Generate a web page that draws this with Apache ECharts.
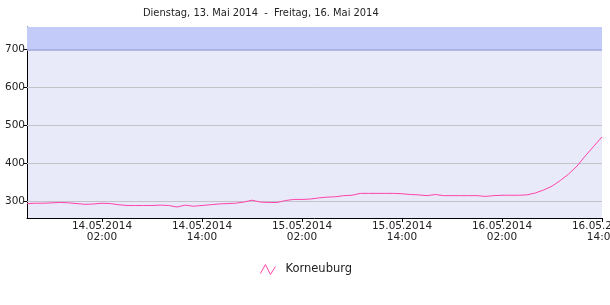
<!DOCTYPE html>
<html>
<head>
<meta charset="utf-8">
<script src="https://cdn.jsdelivr.net/npm/echarts@6/dist/echarts.min.js"></script>
<style>html,body{margin:0;padding:0;background:#fff;}#c{width:610px;height:305px;}</style>
</head>
<body>
<div id="c"></div>
<script>
const titleText = 'Dienstag, 13. Mai 2014  -  Freitag, 16. Mai 2014';
const seriesName = 'Korneuburg';
const times = [
 '13.05.2014 17:00','13.05.2014 18:00','13.05.2014 19:00','13.05.2014 20:00','13.05.2014 21:00','13.05.2014 22:00','13.05.2014 23:00',
 '14.05.2014 00:00','14.05.2014 01:00','14.05.2014 02:00','14.05.2014 03:00','14.05.2014 04:00','14.05.2014 05:00','14.05.2014 06:00','14.05.2014 07:00',
 '14.05.2014 08:00','14.05.2014 09:00','14.05.2014 10:00','14.05.2014 11:00','14.05.2014 12:00','14.05.2014 13:00','14.05.2014 14:00','14.05.2014 15:00',
 '14.05.2014 16:00','14.05.2014 17:00','14.05.2014 18:00','14.05.2014 19:00','14.05.2014 20:00','14.05.2014 21:00','14.05.2014 22:00','14.05.2014 23:00',
 '15.05.2014 00:00','15.05.2014 01:00','15.05.2014 02:00','15.05.2014 03:00','15.05.2014 04:00','15.05.2014 05:00','15.05.2014 06:00','15.05.2014 07:00',
 '15.05.2014 08:00','15.05.2014 09:00','15.05.2014 10:00','15.05.2014 11:00','15.05.2014 12:00','15.05.2014 13:00','15.05.2014 14:00','15.05.2014 15:00',
 '15.05.2014 16:00','15.05.2014 17:00','15.05.2014 18:00','15.05.2014 19:00','15.05.2014 20:00','15.05.2014 21:00','15.05.2014 22:00','15.05.2014 23:00',
 '16.05.2014 00:00','16.05.2014 01:00','16.05.2014 02:00','16.05.2014 03:00','16.05.2014 04:00','16.05.2014 05:00','16.05.2014 06:00','16.05.2014 07:00',
 '16.05.2014 08:00','16.05.2014 09:00','16.05.2014 10:00','16.05.2014 11:00','16.05.2014 12:00','16.05.2014 13:00','16.05.2014 14:00'
];
const values = [
 294,295,295,296,297,296,294,
 292,293,295,294,291,289,289,289,
 289,290,289,285,290,287,289,291,
 293,294,295,298,303,298,297,297,
 302,305,305,306,309,311,312,315,
 316,321,321,321,321,321,320,318,
 317,315,318,315,315,315,315,315,
 313,315,316,316,316,317,322,
 330,340,355,372,393,420,445,470
];
const xLabelTimes = ['14.05.2014 02:00','14.05.2014 14:00','15.05.2014 02:00','15.05.2014 14:00','16.05.2014 02:00','16.05.2014 14:00'];
const yTicks = [300, 400, 500, 600, 700];
const gridLevels = [300, 400, 500, 600];
const alarmLevel = 700;
const yMin = 256, yMax = 760;

const FONT = 'DejaVu Sans';
const chart = echarts.init(document.getElementById('c'), null, {renderer: 'canvas'});
const showIdx = (i, v) => xLabelTimes.indexOf(v) >= 0;
chart.setOption({
  animation: false,
  textStyle: {fontFamily: FONT},
  title: {
    text: titleText, left: 138, top: 3,
    textStyle: {fontFamily: 'DejaVu Sans Condensed', fontSize: 11, fontWeight: 'normal', color: '#222'}
  },
  legend: {
    bottom: 23, left: 'center', itemWidth: 15, itemHeight: 10, itemGap: 10,
    textStyle: {fontFamily: FONT, fontSize: 11.5, color: '#222', padding: [0, 0, 0, 5]},
    data: [{
      name: seriesName,
      icon: 'path://M0,9 L5,0 L10,10 L15,2',
      itemStyle: {color: 'none', borderColor: '#ff44aa', borderWidth: 1}
    }]
  },
  grid: {
    left: 27, right: 8, top: 27, bottom: 87, show: true,
    outerBoundsMode: 'none', containLabel: false,
    backgroundColor: '#e8eafa', borderWidth: 0
  },
  xAxis: {
    type: 'category', data: times, boundaryGap: false,
    axisLine: {lineStyle: {color: '#000', width: 1}},
    axisTick: {show: true, interval: showIdx, length: 4, lineStyle: {color: '#000'}},
    axisLabel: {
      interval: showIdx, margin: 3, fontSize: 10.5, lineHeight: 11, color: '#222', fontFamily: FONT,
      showMaxLabel: true, hideOverlap: false, formatter: v => v.replace(' ', '\n')
    },
    splitLine: {show: false}
  },
  yAxis: {
    type: 'value', min: yMin, max: yMax,
    axisLine: {show: true, lineStyle: {color: '#000', width: 1}},
    axisTick: {show: true, length: 4, customValues: yTicks, lineStyle: {color: '#000'}},
    axisLabel: {customValues: yTicks, margin: 2, fontSize: 10.5, color: '#222', fontFamily: FONT},
    splitLine: {show: false}
  },
  series: [{
    name: seriesName, type: 'line', data: values, showSymbol: false, symbol: 'none',
    lineStyle: {color: '#ff44aa', width: 1}, itemStyle: {color: '#ff44aa'},
    z: 5,
    markArea: {
      silent: true,
      itemStyle: {color: '#c3cbf9'},
      data: [[{yAxis: alarmLevel}, {yAxis: yMax}]]
    },
    markLine: {
      silent: true, symbol: 'none', label: {show: false},
      data: gridLevels.map(v => ({yAxis: v, lineStyle: {color: '#c4c4c8', type: 'solid', width: 1}}))
        .concat([{yAxis: alarmLevel, lineStyle: {color: '#a0a6dc', type: 'solid', width: 1.5}}])
    }
  }]
});
</script>
</body>
</html>
